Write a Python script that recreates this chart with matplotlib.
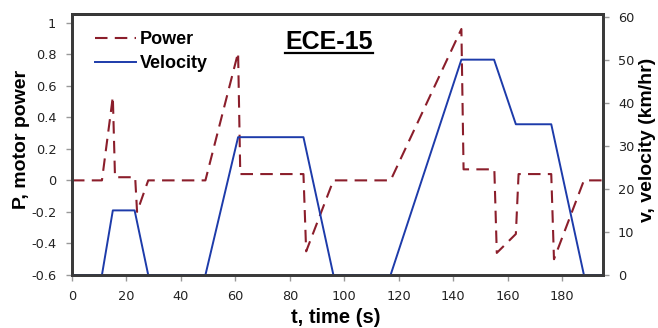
import matplotlib.pyplot as plt
import numpy as np

# ECE-15 driving cycle
vel_t = [0, 11, 15, 23, 28, 49, 61, 85, 96, 117, 143, 155, 163, 176, 188, 195]
vel_v = [0, 0, 15, 15, 0, 0, 32, 32, 0, 0, 50, 50, 35, 35, 0, 0]

pow_t = [0, 11, 15, 15.8, 23.2, 23.9, 28, 49, 61, 61.8, 85, 86, 96, 117, 143, 143.8,
         155.1, 156, 163, 164, 176, 177, 188, 195]
pow_p = [0, 0, 0.53, 0.02, 0.02, -0.2, 0, 0, 0.81, 0.04, 0.04, -0.45, 0, 0, 0.96, 0.07,
         0.07, -0.46, -0.34, 0.04, 0.04, -0.5, 0, 0]

x_ticks = np.arange(0, 181, 20)
p_ticks = [-0.6, -0.4, -0.2, 0, 0.2, 0.4, 0.6, 0.8, 1]
p_labels = ["-0.6", "-0.4", "-0.2", "0", "0.2", "0.4", "0.6", "0.8", "1"]
v_ticks = np.arange(0, 61, 10)

RED = "#8B1E2B"
BLUE = "#1D3BAA"

fig = plt.figure(figsize=(6.58, 3.28), dpi=100)
ax = fig.add_axes([0.1094, 0.1616, 0.807, 0.7957])
ax2 = ax.twinx()

l1, = ax.plot(pow_t, pow_p, color=RED, lw=1.5, dashes=(6, 3.5))
l2, = ax2.plot(vel_t, vel_v, color=BLUE, lw=1.4)

ax.set_xlim(0, 195)
ax.set_ylim(-0.6, 1.055)
ax2.set_ylim(0, 60.6)
ax.set_xticks(x_ticks)
ax.set_yticks(p_ticks)
ax.set_yticklabels(p_labels)
ax2.set_yticks(v_ticks)

for a in (ax, ax2):
    for s in a.spines.values():
        s.set_linewidth(2)
        s.set_color("#3a3a3a")
    a.tick_params(length=4.3, color="#999999", width=1, labelcolor="#222222")
ax.spines["top"].set_color("black")
ax.tick_params(axis="y", pad=7)
ax.tick_params(axis="x", pad=6.5)
ax2.tick_params(axis="y", pad=6.5)

for lab in ax.get_xticklabels() + ax.get_yticklabels() + ax2.get_yticklabels():
    lab.set_family("DejaVu Sans")
    lab.set_fontsize(9.3)

lab_kw = dict(family="Liberation Sans", fontweight="bold", fontsize=14)
ax.set_xlabel("t, time (s)", family="Liberation Sans", fontweight="bold", fontsize=14.5)
ax.set_ylabel("P, motor power", **lab_kw)
ax2.set_ylabel("v, velocity (km/hr)", rotation=90, **lab_kw)
ax.xaxis.set_label_coords(0.497, -0.125)
ax.yaxis.set_label_coords(-0.079, 0.52)
ax2.yaxis.set_label_coords(1.068, 0.517)

ax.text(0.484, 0.893, "ECE-15", transform=ax.transAxes, ha="center", va="center",
        family="Liberation Sans", fontweight="bold", fontsize=18)
ax.plot([0.401, 0.567], [0.852, 0.852], transform=ax.transAxes, color="black", lw=1.6)

leg = ax.legend([l1, l2], ["Power", "Velocity"], loc="upper left", frameon=False,
                prop={"family": "Liberation Sans", "weight": "bold", "size": 13},
                handlelength=2.3, handletextpad=0.2, borderaxespad=0, borderpad=0,
                labelspacing=0.4, bbox_to_anchor=(0.043, 0.935))

fig.savefig("out.png", dpi=100)
